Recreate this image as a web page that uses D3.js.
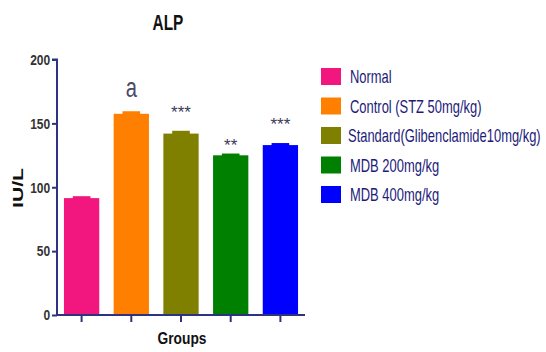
<!DOCTYPE html>
<html><head><meta charset="utf-8">
<script src="https://cdn.jsdelivr.net/npm/d3@7"></script>
<style>body{margin:0;background:#fff}svg{display:block}</style>
</head><body>
<script>
const categories = ["Normal","Control (STZ 50mg/kg)","Standard(Glibenclamide10mg/kg)","MDB 200mg/kg","MDB 400mg/kg"];
const values = [91.5, 157.5, 142, 125, 133];
const errors = [1.5, 2, 2.2, 1.4, 1.6];
const marks = ["", "a", "***", "**", "***"];
const colors = ["#f2167f","#ff8000","#808000","#008000","#0000ff"];
const yTicks = [0,50,100,150,200];

const W=546,H=352;
const svg=d3.select("body").append("svg").attr("width",W).attr("height",H);
const x0=57,x1=305,yTop=59.5,yBot=315;
const x=d3.scaleBand().domain(categories).range([x0,x1]).paddingInner(0.29).paddingOuter(0.14);
const y=d3.scaleLinear().domain([0,200]).range([yBot,yTop]);
const axisColor="#2e3282";
const fam="'Liberation Sans',Arial,sans-serif";

function ctext(parent,tx,ty,sx,str,opts){
  const g=parent.append("g").attr("transform",`translate(${tx},${ty}) scale(${sx},1)`);
  return g.append("text").attr("x",0).attr("y",0).attr("font-family",fam)
    .attr("font-size",opts.size).attr("fill",opts.fill||"#111")
    .attr("font-weight",opts.weight||"normal").attr("text-anchor",opts.anchor||"start").text(str);
}

// bars
svg.selectAll("rect.bar").data(values).enter().append("rect").attr("class","bar")
 .attr("x",(d,i)=>x(categories[i])).attr("width",x.bandwidth())
 .attr("y",d=>y(d)).attr("height",d=>yBot-y(d)).attr("fill",(d,i)=>colors[i]);
// error caps
svg.selectAll("rect.err").data(values).enter().append("rect").attr("class","err")
 .attr("x",(d,i)=>x(categories[i])+x.bandwidth()*0.25).attr("width",x.bandwidth()*0.5)
 .attr("y",(d,i)=>y(d+errors[i])).attr("height",(d,i)=>y(d)-y(d+errors[i])+1).attr("fill",(d,i)=>colors[i]);
// annotations
const markGap=[0,14,14,4,14];
marks.forEach((m,i)=>{
  if(!m) return;
  const cx=x(categories[i])+x.bandwidth()/2;
  const top=y(values[i]+errors[i]);
  if(m==="a"){
    ctext(svg,cx,top-markGap[i],0.72,m,{size:28,fill:"#4a4a66",anchor:"middle"});
  } else {
    ctext(svg,cx,top-markGap[i]+1,1.0,m,{size:17,fill:"#3a3a5a",anchor:"middle"});
  }
});

// y axis
const ya=svg.append("g").attr("transform",`translate(${x0},0)`)
 .call(d3.axisLeft(y).tickValues(yTicks).tickSize(5).tickPadding(2));
ya.select(".domain").attr("stroke",axisColor).attr("stroke-width",2).attr("d",`M-5,${yTop}H0V${yBot}`);
ya.selectAll(".tick line").attr("stroke",axisColor).attr("stroke-width",2);
ya.selectAll(".tick text").attr("fill","#333").attr("font-family",fam).attr("font-weight","bold").attr("font-size",15)
  .attr("x",-8.5).attr("transform","scale(0.8,1)");

// x axis
const xa=svg.append("g").attr("transform",`translate(0,${yBot})`)
 .call(d3.axisBottom(x).tickSize(7).tickFormat(""));
xa.select(".domain").attr("stroke",axisColor).attr("stroke-width",2).attr("d",`M${x0},0H${x1}`);
xa.selectAll(".tick line").attr("stroke",axisColor).attr("stroke-width",2);

// titles
ctext(svg,168,30,0.7,"ALP",{size:22,weight:"bold",anchor:"middle"});
ctext(svg,182,344,0.81,"Groups",{size:17,weight:"bold",anchor:"middle"});
svg.append("text").attr("transform",`translate(23,188) rotate(-90)`).attr("text-anchor","middle")
 .attr("font-family",fam).attr("font-weight","bold").attr("font-size",15).attr("fill","#111")
 .attr("textLength",40).attr("lengthAdjust","spacingAndGlyphs").text("IU/L");

// legend
const rows=svg.append("g").selectAll("g").data(categories).enter().append("g")
 .attr("transform",(d,i)=>`translate(321,${77+i*29.5})`);
rows.append("rect").attr("x",0).attr("y",-9).attr("width",20).attr("height",17).attr("fill",(d,i)=>colors[i]);
rows.each(function(d,i){
  ctext(d3.select(this),i===2?27:29,6.3,0.74,d,{size:17.5,fill:"#1c1c7a"});
});
</script>
</body></html>
